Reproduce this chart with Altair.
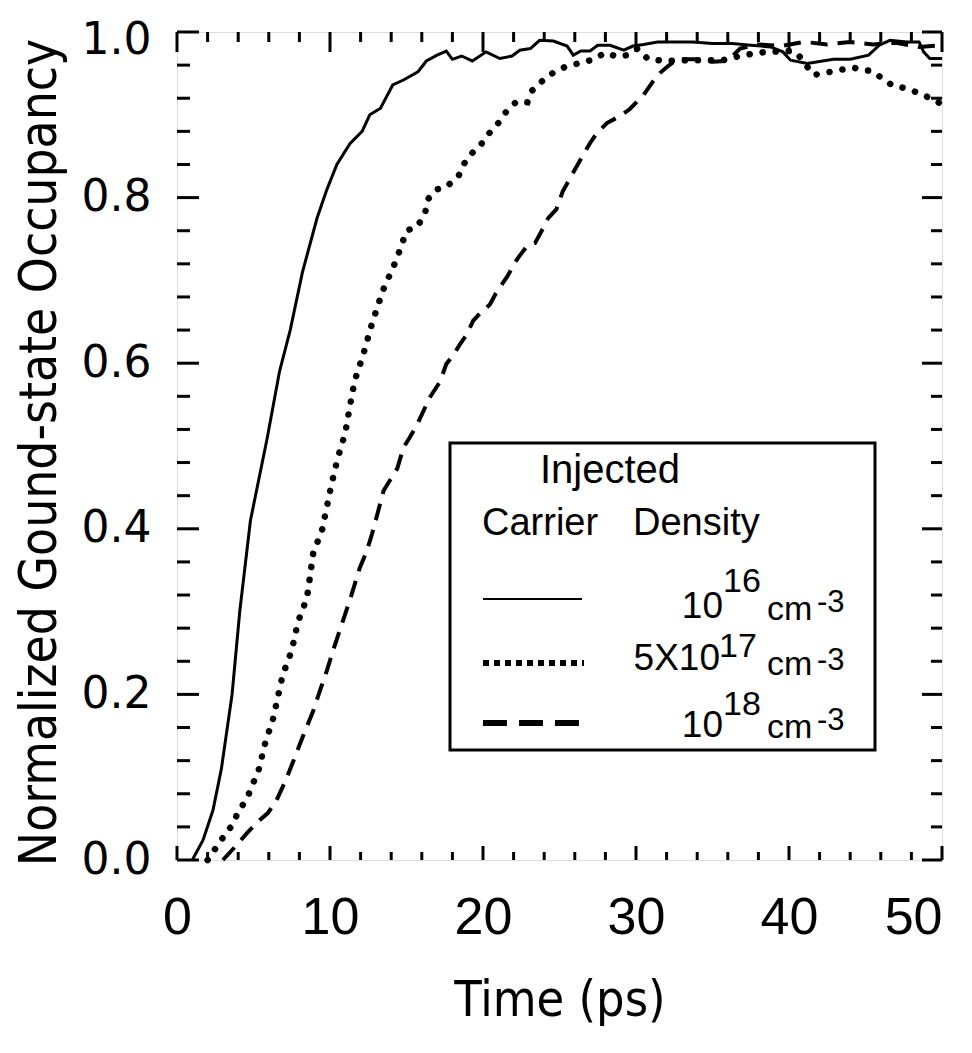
import altair as alt
import pandas as pd

# ---------------- data ----------------
t_1e16 = [1.0, 1.7, 2.35, 2.9, 3.6, 4.1, 4.8, 5.9, 6.7, 7.4, 8.2, 9.15, 9.8, 10.45, 11.3,
          12.1, 12.6, 13.3, 14.1, 14.8, 15.75, 16.3, 17.0, 17.6, 18.0, 18.6, 19.3, 20.2,
          21.1, 21.9, 22.4, 23.1, 23.7, 24.6, 25.5, 25.9, 26.4, 27.0, 27.5, 28.3, 29.2,
          29.8, 30.5, 31.4, 32.4, 33.7, 35.0, 36.3, 37.5, 38.8, 39.6, 40.1, 41.2, 42.9,
          44.0, 45.2, 45.9, 46.6, 47.7, 48.5, 48.8, 49.2, 50.0]
v_1e16 = [0.0, 0.024, 0.06, 0.11, 0.20, 0.30, 0.41, 0.51, 0.59, 0.64, 0.71, 0.775, 0.81,
          0.84, 0.865, 0.88, 0.90, 0.908, 0.936, 0.942, 0.952, 0.965, 0.972, 0.977, 0.967,
          0.971, 0.965, 0.976, 0.968, 0.971, 0.978, 0.98, 0.99, 0.989, 0.983, 0.972, 0.977,
          0.977, 0.984, 0.984, 0.978, 0.983, 0.985, 0.988, 0.988, 0.988, 0.986, 0.986,
          0.984, 0.982, 0.976, 0.966, 0.962, 0.967, 0.967, 0.972, 0.984, 0.99, 0.988,
          0.988, 0.976, 0.968, 0.968]

t_5e17 = [2.0, 3.0, 3.6, 4.0, 4.6, 4.9, 5.3, 5.75, 6.3, 6.9, 7.5, 7.9, 8.5, 8.9, 9.5,
          10.1, 10.5, 11.0, 11.3, 11.6, 12.2, 12.7, 13.1, 13.6, 14.0, 14.4, 14.7, 15.0,
          15.7, 16.2, 16.4, 17.0, 17.6, 18.4, 18.8, 19.3, 19.9, 20.5, 21.0, 21.6, 22.2,
          22.9, 23.2, 24.0, 24.6, 25.5, 26.5, 27.2, 28.0, 28.8, 29.4, 30.1, 30.8, 32.0,
          33.5, 34.7, 35.7, 37.0, 38.5, 40.0, 40.5, 41.6, 43.0, 44.2, 44.8, 45.4, 46.1,
          46.8, 47.4, 48.1, 49.0, 49.7, 50.0]
v_5e17 = [0.0, 0.027, 0.042, 0.058, 0.075, 0.09, 0.106, 0.14, 0.172, 0.223, 0.253, 0.287,
          0.317, 0.37, 0.40, 0.454, 0.485, 0.516, 0.548, 0.578, 0.612, 0.645, 0.668, 0.695,
          0.71, 0.728, 0.744, 0.76, 0.765, 0.78, 0.798, 0.81, 0.813, 0.826, 0.842, 0.854,
          0.865, 0.88, 0.89, 0.906, 0.916, 0.915, 0.929, 0.943, 0.951, 0.959, 0.963, 0.967,
          0.975, 0.97, 0.972, 0.98, 0.967, 0.965, 0.966, 0.966, 0.966, 0.972, 0.976, 0.977,
          0.975, 0.948, 0.953, 0.957, 0.954, 0.953, 0.944, 0.935, 0.933, 0.929, 0.922,
          0.916, 0.912]

t_1e18 = [3.0, 3.8, 4.6, 5.4, 5.95, 6.5, 7.1, 7.7, 8.2, 8.9, 9.35, 9.8, 10.2, 10.85, 11.4,
          11.95, 12.4, 12.75, 13.1, 13.5, 13.9, 14.4, 14.8, 15.2, 15.7, 16.1, 16.5, 17.2,
          17.6, 18.1, 18.5, 18.95, 19.35, 19.8, 20.45, 20.8, 21.3, 21.6, 22.1, 22.4, 22.9,
          23.4, 23.9, 24.25, 24.8, 25.2, 26.1, 26.5, 27.0, 27.45, 28.1, 29.0, 29.6, 30.5,
          31.1, 31.6, 32.1, 32.7, 34.2, 35.0, 36.0, 36.8, 38.0, 39.5, 41.0, 42.5, 44.0,
          45.5, 47.0, 48.5, 50.0]
v_1e18 = [0.0, 0.016, 0.033, 0.048, 0.057, 0.072, 0.096, 0.124, 0.148, 0.18, 0.205, 0.229,
          0.253, 0.289, 0.32, 0.353, 0.373, 0.394, 0.418, 0.446, 0.458, 0.473, 0.498, 0.51,
          0.526, 0.542, 0.558, 0.578, 0.599, 0.611, 0.623, 0.635, 0.651, 0.66, 0.671, 0.683,
          0.697, 0.705, 0.722, 0.73, 0.742, 0.745, 0.762, 0.775, 0.786, 0.807, 0.837, 0.85,
          0.866, 0.878, 0.89, 0.899, 0.907, 0.924, 0.94, 0.951, 0.959, 0.967, 0.967, 0.964,
          0.965, 0.98, 0.985, 0.983, 0.988, 0.985, 0.988, 0.985, 0.987, 0.982, 0.984]

assert len(t_1e16) == len(v_1e16)
assert len(t_5e17) == len(v_5e17)
assert len(t_1e18) == len(v_1e18)

x_major = [0, 10, 20, 30, 40, 50]
x_minor = [2, 4, 6, 8, 12, 14, 16, 18, 22, 24, 26, 28, 32, 34, 36, 38, 42, 44, 46, 48]
y_major = [0.0, 0.2, 0.4, 0.6, 0.8, 1.0]
y_minor = [0.04, 0.08, 0.12, 0.16, 0.24, 0.28, 0.32, 0.36, 0.44, 0.48, 0.52, 0.56,
           0.64, 0.68, 0.72, 0.76, 0.84, 0.88, 0.92, 0.96]

# ---------------- chart ----------------
W, H = 765, 828
FONT = "Liberation Sans"
COND = "DejaVu Sans Condensed"

xs = alt.Scale(domain=[0, 50], nice=False, zero=False)
ys = alt.Scale(domain=[0, 1], nice=False, zero=False)

X = alt.X("t:Q", scale=xs, axis=alt.Axis(
    values=x_major, ticks=False, domain=False, grid=False,
    labelFont=FONT, labelFontSize=52, labelColor="black", labelPadding=32,
    labelFlush=False, labelBaseline="top",
    labelAlign={"condition": {"test": "datum.value == 50", "value": "right"}, "value": "center"},
    title="Time (ps)", titleFont=COND, titleFontSize=50, titleFontWeight="normal",
    titleColor="black", titleY=140, titleBaseline="middle"))
Y = alt.Y("v:Q", scale=ys, axis=alt.Axis(
    values=y_major, format=".1f", ticks=False, domain=False, grid=False,
    labelFont="DejaVu Sans", labelFontSize=44, labelColor="black", labelPadding=26,
    labelFlush=False, labelBaseline="middle",
    labelOffset={"condition": {"test": "datum.value == 1", "value": 8}, "value": 0},
    title="Normalized Gound-state Occupancy", titleFont=COND, titleFontSize=51,
    titleFontWeight="normal", titleColor="black", titleAngle=-90,
    titleX=-137, titleY=420, titleBaseline="middle", titleAlign="center"))


def sdf(t, v):
    return pd.DataFrame({"t": t, "v": v})


solid = alt.Chart(sdf(t_1e16, v_1e16)).mark_line(
    color="black", strokeWidth=3, interpolate="linear").encode(x=X, y=Y)
dotted = alt.Chart(sdf(t_5e17, v_5e17)).mark_line(
    color="black", strokeWidth=6.5, strokeDash=[0.1, 13], strokeCap="round").encode(x=X, y=Y)
dashed = alt.Chart(sdf(t_1e18, v_1e18)).mark_line(
    color="black", strokeWidth=4, strokeDash=[17, 10]).encode(x=X, y=Y)

# inside ticks on all four sides
xmaj = pd.DataFrame({"t": x_major})
xmin = pd.DataFrame({"t": x_minor})
ymaj = pd.DataFrame({"v": y_major})
ymin = pd.DataFrame({"v": y_minor})


def xtick(df, y0, y1):
    return alt.Chart(df).mark_rule(color="black", strokeWidth=3).encode(
        x=X, y=alt.value(y0), y2=alt.value(y1))


def ytick(df, x0, x1):
    return alt.Chart(df).mark_rule(color="black", strokeWidth=3).encode(
        y=Y, x=alt.value(x0), x2=alt.value(x1))


ticks = [
    xtick(xmaj, H, H - 14), xtick(xmin, H, H - 8),
    xtick(xmaj, 0, 20), xtick(xmin, 0, 10),
    ytick(ymaj, 0, 22), ytick(ymin, 0, 13),
    ytick(ymaj, W, W - 20), ytick(ymin, W, W - 11),
]

one = pd.DataFrame({"k": [0]})

legend_box = alt.Chart(one).mark_rect(
    fill="white", stroke="black", strokeWidth=3).encode(
    x=alt.value(273), x2=alt.value(698), y=alt.value(411), y2=alt.value(718))

sample_solid = alt.Chart(one).mark_rule(color="black", strokeWidth=2).encode(
    x=alt.value(306), x2=alt.value(405), y=alt.value(567))
sample_dot = alt.Chart(one).mark_rule(color="black", strokeWidth=6, strokeDash=[6, 5]).encode(
    x=alt.value(306), x2=alt.value(407), y=alt.value(631))
sample_dash = alt.Chart(one).mark_rule(color="black", strokeWidth=6, strokeDash=[24, 12]).encode(
    x=alt.value(306), x2=alt.value(405), y=alt.value(691))


def txt(s, x, y, size, align="left"):
    return alt.Chart(one).mark_text(
        font=FONT, fontSize=size, color="black", align=align, baseline="alphabetic").encode(
        x=alt.value(x), y=alt.value(y), text=alt.value(s))


legend_texts = [
    txt("Injected", 363, 451, 40),
    txt("Carrier", 305, 503, 38),
    txt("Density", 456, 503, 38),
    # row 1: 10^16 cm^-3
    txt("10", 546, 586, 37, "right"), txt("16", 546, 560, 34),
    txt("cm", 590, 588, 34), txt("-3", 640, 580, 31),
    # row 2: 5X10^17 cm^-3
    txt("5X10", 543, 638, 37, "right"), txt("17", 542, 625, 34),
    txt("cm", 590, 643, 34), txt("-3", 640, 638, 31),
    # row 3: 10^18 cm^-3
    txt("10", 546, 705, 37, "right"), txt("18", 546, 683, 34),
    txt("cm", 590, 706, 34), txt("-3", 640, 698, 31),
]

chart = alt.layer(
    *ticks, solid, dotted, dashed, legend_box, sample_solid, sample_dot, sample_dash,
    *legend_texts
).properties(
    width=W, height=H,
    autosize=alt.AutoSizeParams(type="none"),
    padding={"left": 169, "top": 24, "right": 20, "bottom": 168},
).configure_view(
    stroke="black", strokeWidth=4
).configure(background="white")

chart.save("out.html", embed_options={"renderer": "svg", "actions": False})
